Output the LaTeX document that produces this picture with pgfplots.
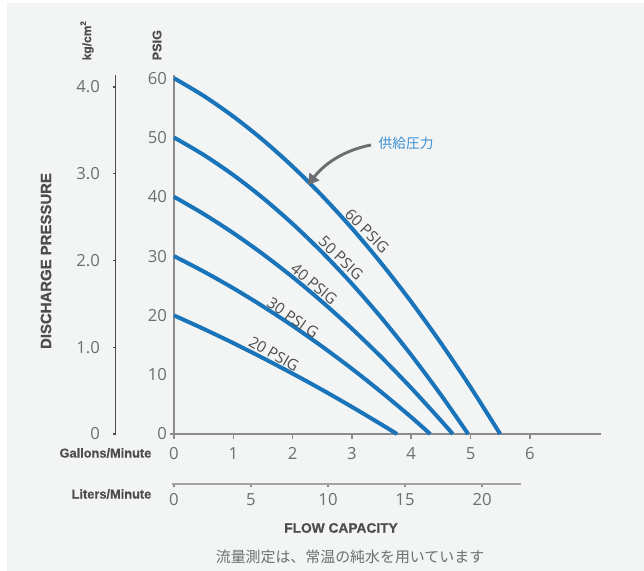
\documentclass[border=0pt]{standalone}
\usepackage{pgfplots}
\pgfplotsset{compat=1.18}
\usepackage{fontspec}
\setmainfont{Open Sans}
\newfontfamily\hb[FakeBold=0.6]{Liberation Sans Bold}
\newfontfamily\cjk{Noto Sans CJK JP}
\usetikzlibrary{arrows.meta}
\definecolor{bg}{HTML}{F3F5F5}
\definecolor{curve}{HTML}{1A74BA}
\definecolor{axgray}{HTML}{8C8C8C}
\definecolor{lblgray}{HTML}{6D6E71}
\definecolor{txtgray}{HTML}{4D4D4D}
\definecolor{note}{HTML}{3A8FD0}
\begin{document}
\begin{tikzpicture}[x=0.75pt,y=0.75pt]
\useasboundingbox (0,0) rectangle (644,571);
\fill[white] (0,0) rectangle (644,571);
\fill[bg] (7,0) rectangle (644,568);

% main axis: PSIG vs gallons/minute
\begin{axis}[
  at={(130.5pt,102.75pt)}, anchor=south west,
  scale only axis, width=320.25pt, height=269.1pt,
  xmin=0, xmax=7.2, ymin=0, ymax=60.5,
  axis x line=bottom, axis y line=left,
  axis line style={draw=axgray, line width=1.9pt, -},
  xtick={0,...,6}, ytick={0,10,...,60},
  xtick align=outside, major tick length=3.5pt,
  xtick style={draw=axgray, line width=1.2pt},
  ytick style={draw=none},
  /pgf/number format/assume math mode=true,
  tick label style={font=\fontsize{12.5}{14}\selectfont, text=lblgray},
  xticklabel style={anchor=center, yshift=-11pt},
  yticklabel style={anchor=east, xshift=0pt},
  clip=false,
]
\draw[draw=axgray, line width=1.9pt] (axis cs:-0.07,0) -- (axis cs:0,0);
\addplot[curve, line width=3pt, smooth] coordinates {
  (0,60) (0.5,57.02) (1,53.54) (1.5,49.57) (2,45.10) (2.5,40.14) (3,34.68)
  (3.5,28.73) (4,22.28) (4.5,15.34) (5,7.90) (5.5,0)};
\addplot[curve, line width=3pt, smooth] coordinates {
  (0,50) (0.5,47.07) (1,43.67) (1.5,39.79) (2,35.44) (2.5,30.62) (3,25.33)
  (3.5,19.56) (4,13.32) (4.5,6.61) (4.96,0)};
\addplot[curve, line width=3pt, smooth] coordinates {
  (0,40) (0.5,37.10) (1,33.88) (1.5,30.33) (2,26.46) (2.5,22.27) (3,17.76)
  (3.5,12.92) (4,7.76) (4.5,2.28) (4.7,0)};
\addplot[curve, line width=3pt, smooth] coordinates {
  (0,30) (0.5,27.40) (1,24.58) (1.5,21.52) (2,18.24) (2.5,14.73) (3,11.00)
  (3.5,7.03) (4,2.84) (4.32,0)};
\addplot[curve, line width=3pt, smooth] coordinates {
  (0,20) (0.5,17.72) (1,15.33) (1.5,12.81) (2,10.18) (2.5,7.44) (3,4.57)
  (3.5,1.59) (3.76,0)};
\end{axis}

% kg/cm2 axis
\begin{axis}[
  at={(87pt,102.75pt)}, anchor=south west,
  scale only axis, width=1pt, height=269.25pt,
  xmin=0, xmax=1, ymin=0, ymax=4.138,
  hide x axis, axis y line=left,
  axis line style={draw=txtgray, line width=0.75pt, -},
  ytick={0,1,2,3,4}, yticklabels={0,1.0,2.0,3.0,4.0},
  ytick align=outside, major tick length=2pt,
  ytick style={draw=txtgray, line width=1pt},
  /pgf/number format/assume math mode=true,
  tick label style={font=\fontsize{12.5}{14}\selectfont, text=lblgray},
  yticklabel style={anchor=east, xshift=-6.5pt},
]
\addplot[draw=none] coordinates {(0,0)};
\end{axis}

% liters/minute axis
\begin{axis}[
  at={(129pt,65.25pt)}, anchor=south west,
  scale only axis, width=261.75pt, height=1pt,
  xmin=-0.13, xmax=22.53, ymin=0, ymax=1,
  hide y axis, axis x line=bottom,
  axis line style={draw=axgray!80, line width=1.1pt, -},
  xtick={0,5,...,20},
  xtick align=outside, major tick length=2.5pt,
  xtick style={draw=axgray, line width=1pt},
  /pgf/number format/assume math mode=true,
  tick label style={font=\fontsize{12.5}{14}\selectfont, text=lblgray},
  xticklabel style={anchor=center, yshift=-9pt},
]
\addplot[draw=none] coordinates {(0,0)};
\end{axis}

% axis titles
\node[rotate=90, text=txtgray, font=\hb\fontsize{11.2}{13}\selectfont] at (46,310) {DISCHARGE PRESSURE};
\node[rotate=90, anchor=west, text=txtgray, font=\hb\fontsize{9}{11}\selectfont] at (87,506) {kg/cm\textsuperscript{2}};
\node[rotate=90, anchor=west, text=txtgray, font=\hb\fontsize{9.5}{12}\selectfont] at (157,506) {PSIG};
\node[anchor=east, text=txtgray, font=\hb\fontsize{9.6}{12}\selectfont] at (156,118) {Gallons/Minute};
\node[anchor=east, text=txtgray, font=\hb\fontsize{9.6}{12}\selectfont] at (156,77) {Liters/Minute};
\node[text=txtgray, font=\hb\fontsize{10.3}{12}\selectfont] at (341,43) {FLOW CAPACITY};
\node[text=lblgray, font=\cjk\fontsize{11.2}{13}\selectfont] at (350,14) {流量測定は、常温の純水を用いています};

% curve labels
\begin{scope}[every node/.style={text=txtgray, inner sep=0pt, font=\fontsize{11.5}{13}\selectfont}]
\node[rotate=-45] at (367,340) {60 PSIG};
\node[rotate=-44] at (341,313) {50 PSIG};
\node[rotate=-40] at (314,287) {40 PSIG};
\node[rotate=-35] at (293,253) {30 PSI G};
\node[rotate=-30] at (274,217) {20 PSIG};
\end{scope}

% annotation
\node[anchor=west, text=note, font=\cjk\fontsize{10.3}{12}\selectfont] at (374,428) {供給圧力};
\draw[draw=lblgray, line width=2.2pt, -{Triangle[length=8pt,width=9pt]}]
  (371,426) .. controls (345,421) and (325,408) .. (308,386);
\end{tikzpicture}
\end{document}
